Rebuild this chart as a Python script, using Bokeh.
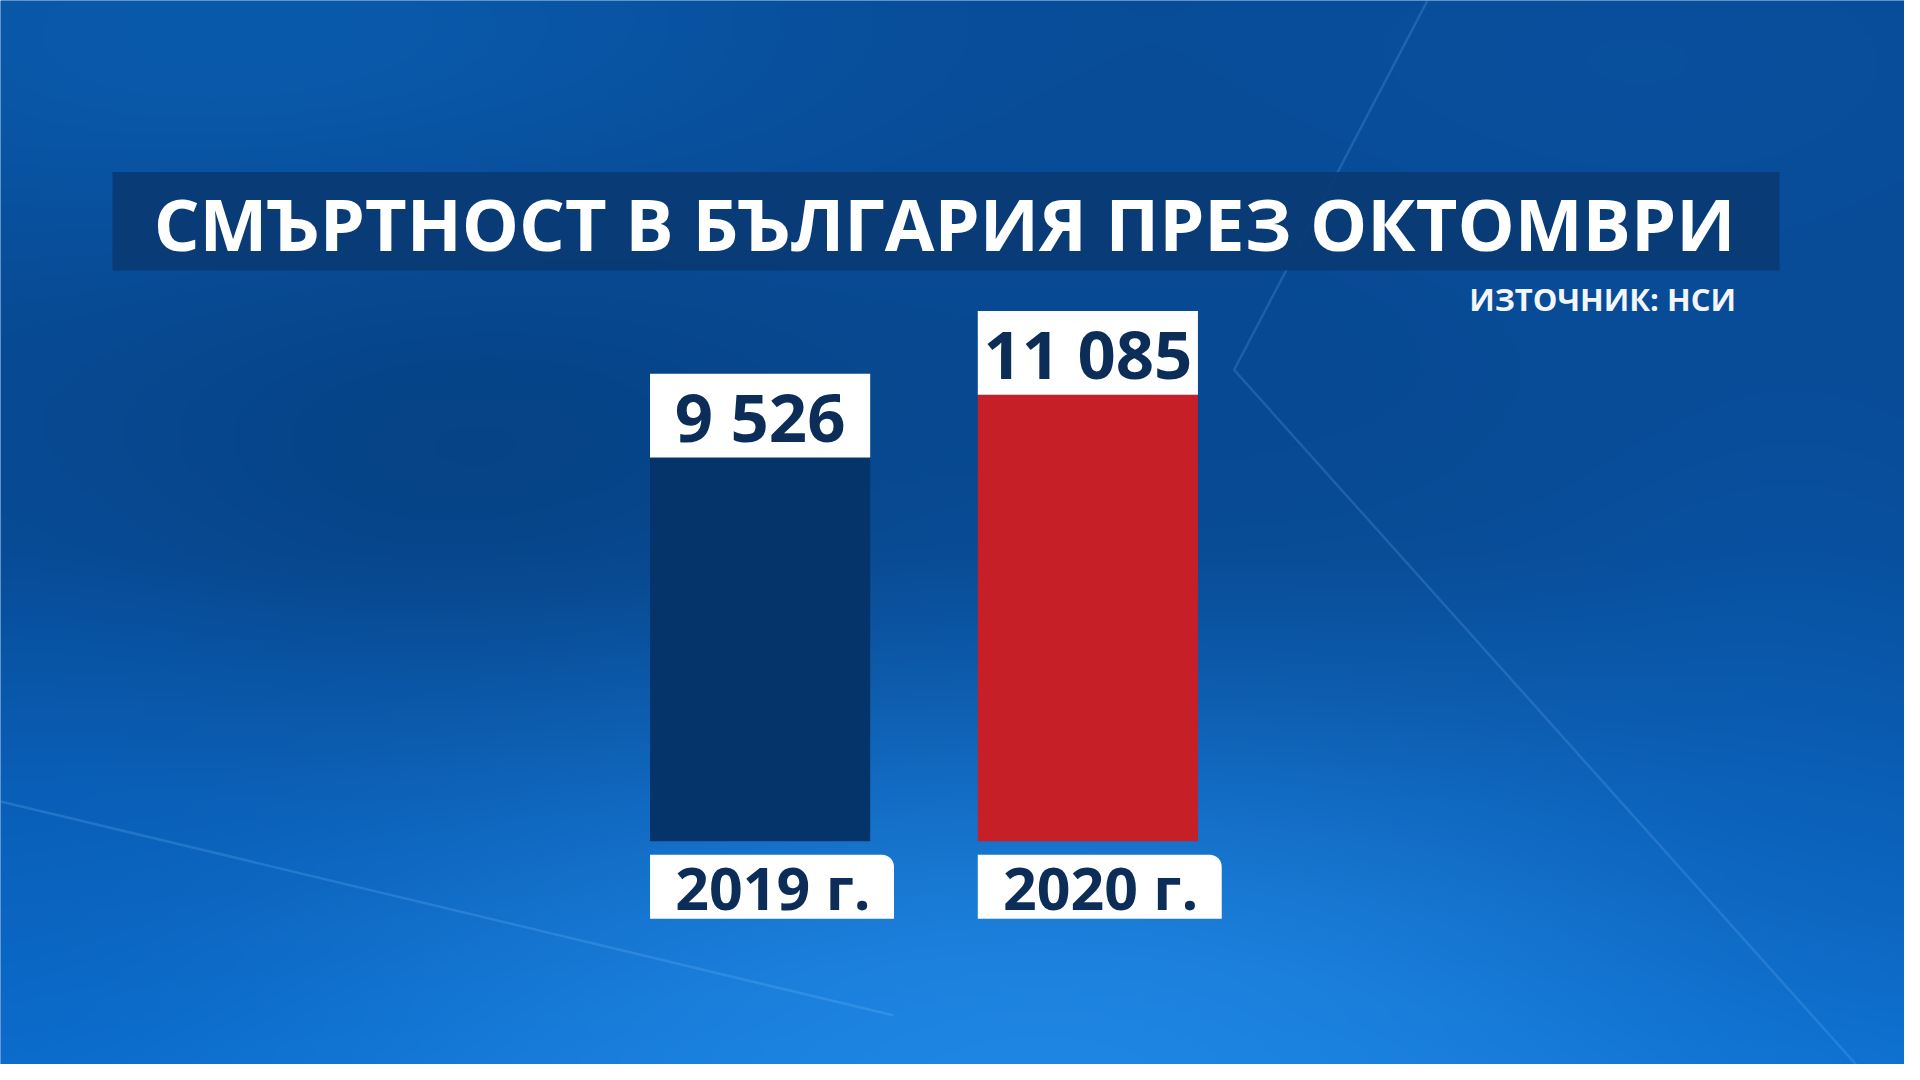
import numpy as np
from bokeh.plotting import figure
from bokeh.models import Range1d, ColumnDataSource
from bokeh.core.properties import value
from bokeh.embed import file_html
from bokeh.resources import INLINE

# ---------------- data ----------------
title = "СМЪРТНОСТ В БЪЛГАРИЯ ПРЕЗ ОКТОМВРИ"
source_note = "ИЗТОЧНИК: НСИ"
years = ["2019 г.", "2020 г."]
deaths = [9526, 11085]
value_labels = ["9 526", "11 085"]
bar_colors = ["#04346a", "#c61f28"]

# ---------------- layout (reference is 1920x1080) ----------------
W, H = 1904, 1064
REF_W, REF_H = 1920, 1080
S = H / REF_H

BAR_CENTER0 = 766.0      # px of first bar centre
BAR_STEP = 330.5         # px between bar centres
BASE_PX = 853.5          # px of the bar baseline
PX_PER_UNIT = 0.0409     # px per death

x0 = -BAR_CENTER0 / BAR_STEP
x1 = (REF_W - BAR_CENTER0) / BAR_STEP
y1 = BASE_PX / PX_PER_UNIT
y0 = -(REF_H - BASE_PX) / PX_PER_UNIT


def fx(px):
    return x0 + px / BAR_STEP


def fy(py):
    return y1 - py / PX_PER_UNIT


def dx(px):
    return px / BAR_STEP


def dy(py):
    return py / PX_PER_UNIT


p = figure(width=W, height=H, x_range=Range1d(x0, x1), y_range=Range1d(y0, y1),
           toolbar_location=None, output_backend="svg", min_border=0,
           x_axis_type=None, y_axis_type=None)
p.grid.visible = False
p.outline_line_color = None
p.background_fill_color = "#0a55a8"
p.border_fill_color = "#0a55a8"

# ---------------- background ----------------
ny, nx = 270, 480
yy, xx = np.mgrid[0:ny, 0:nx]
u = (xx + 0.5) / nx * REF_W
v = (yy + 0.5) / ny * REF_H


def blob(cx, cy, rx, ry):
    return np.exp(-(((u - cx) / rx) ** 2 + ((v - cy) / ry) ** 2))


col = np.zeros((ny, nx, 3))
col[..., 0], col[..., 1], col[..., 2] = 8, 74, 148


def mix(w, c):
    w = np.clip(w, 0, 1)[..., None]
    col[:] = col * (1 - w) + np.array(c, dtype=float) * w


mix(blob(250, 40, 600, 230) * 0.8, (10, 94, 178))
mix(blob(1650, 60, 500, 220) * 0.5, (10, 84, 165))
mix(blob(480, 470, 420, 230) * 0.65, (5, 62, 125))
mix(blob(1150, 450, 300, 250) * 0.35, (6, 70, 140))
mix(np.clip((v - 560) / 520, 0, 1) ** 1.1, (10, 108, 205))
mix(blob(1050, 1080, 750, 330) * 0.8, (36, 140, 232))
mix(blob(1820, 720, 260, 300) * 0.35, (8, 96, 188))
mix(blob(0, 900, 300, 300) * 0.4, (8, 100, 195))

rgba = np.empty((ny, nx), dtype=np.uint32)
view = rgba.view(dtype=np.uint8).reshape((ny, nx, 4))
view[..., 0] = col[..., 0].astype(np.uint8)
view[..., 1] = col[..., 1].astype(np.uint8)
view[..., 2] = col[..., 2].astype(np.uint8)
view[..., 3] = 255
p.image_rgba(image=[rgba[::-1]], x=x0, y=y0, dw=x1 - x0, dh=y1 - y0)

# light streaks
p.line(x=[fx(0), fx(900)], y=[fy(813), fy(1030)], line_color="#7cc0ff",
       line_alpha=0.22, line_width=2.5)
p.line(x=[fx(1439), fx(1244), fx(1880)], y=[fy(0), fy(375), fy(1090)],
       line_color="#7cc0ff", line_alpha=0.2, line_width=2.5)

# ---------------- title ----------------
p.quad(left=[fx(113)], right=[fx(1794)], top=[fy(174)], bottom=[fy(274)],
       fill_color="#0a3a73", fill_alpha=0.92, line_color=None)
p.text(x=[fx(952)], y=[fy(226)], text=[title], text_font=value("Open Sans"),
       text_font_style="bold", text_font_size=f"{73 * S:.0f}px",
       text_color="white", text_align="center", text_baseline="middle")
p.text(x=[fx(1750)], y=[fy(303)], text=[source_note], text_font=value("Open Sans"),
       text_font_style="bold", text_font_size=f"{31 * S:.0f}px",
       text_color="#f2f6fb", text_align="right", text_baseline="middle")

# ---------------- bars ----------------
xs = list(range(len(years)))
BAR_W = dx(222)
LBL_H = dy(85)
src = ColumnDataSource(dict(
    x=xs, top=deaths, color=bar_colors, label=value_labels, year=years,
    box_top=[d + LBL_H for d in deaths],
    label_y=[d + LBL_H / 2 for d in deaths],
    year_left=[i - BAR_W / 2 for i in xs],
    year_right=[i - BAR_W / 2 + dx(246) for i in xs],
    year_x=[i - BAR_W / 2 + dx(124) for i in xs],
))
p.vbar(x="x", top="top", bottom=0, width=BAR_W, fill_color="color",
       line_color=None, source=src)
p.vbar(x="x", top="box_top", bottom="top", width=BAR_W, fill_color="white",
       line_color=None, source=src)
p.text(x="x", y="label_y", text="label", source=src, text_font=value("Open Sans"),
       text_font_style="bold", text_font_size=f"{68 * S:.0f}px",
       text_color="#0b2d58", text_align="center", text_baseline="middle")

try:
    p.quad(left="year_left", right="year_right", top=-dy(867 - BASE_PX),
           bottom=-dy(932 - BASE_PX), fill_color="white", line_color=None,
           border_radius=dict(top_left=0, top_right=12, bottom_right=0, bottom_left=0),
           source=src)
except Exception:
    p.quad(left="year_left", right="year_right", top=-dy(867 - BASE_PX),
           bottom=-dy(932 - BASE_PX), fill_color="white", line_color=None,
           source=src)
p.text(x="year_x", y=-dy(900 - BASE_PX), text="year", source=src,
       text_font=value("Open Sans"), text_font_style="bold",
       text_font_size=f"{60 * S:.0f}px", text_color="#0b2d58",
       text_align="center", text_baseline="middle")

open("out.html", "w").write(file_html(p, INLINE))
